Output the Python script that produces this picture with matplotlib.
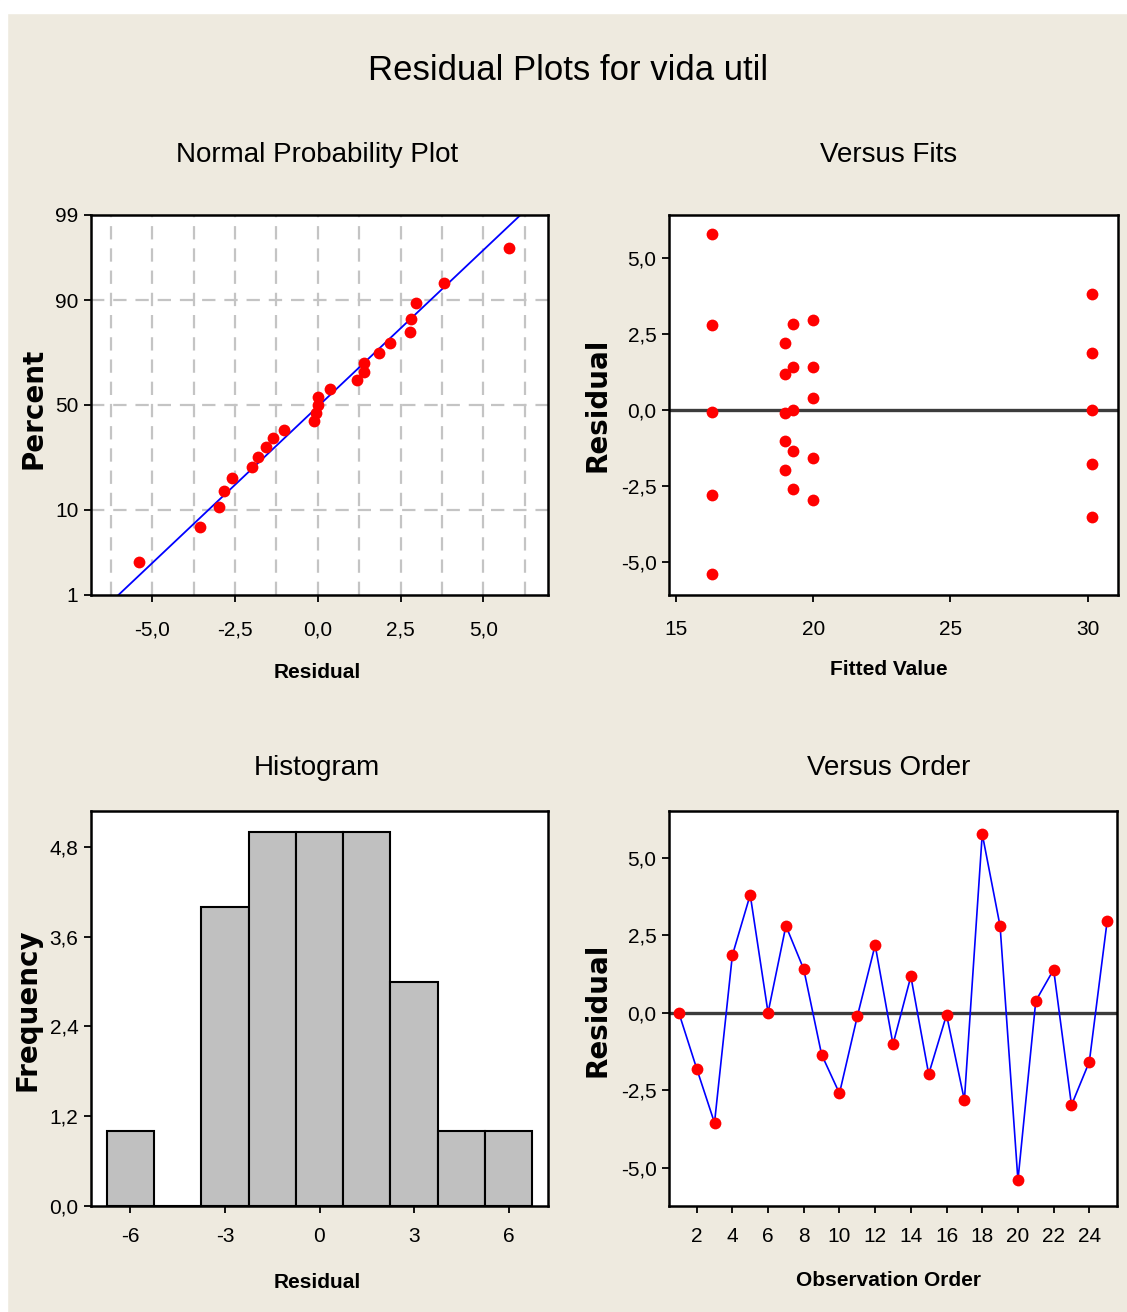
"""Minitab-style four-in-one residual plots for vida util."""

from statistics import NormalDist

import matplotlib

matplotlib.use("Agg")
import matplotlib.pyplot as plt
import numpy as np
from matplotlib import font_manager
from matplotlib.patches import Rectangle
from matplotlib.ticker import FixedLocator, FuncFormatter

NARROW = "Liberation Sans"
for fn in ["Liberation Sans Narrow", "Liberation Sans"]:
    if any(fn.lower() == t.name.lower() for t in font_manager.fontManager.ttflist):
        NARROW = fn
        break
WIDE = "DejaVu Sans"
plt.rcParams["axes.unicode_minus"] = False

obs_order = [1, 2, 3, 4, 5, 6, 7, 8, 9, 10, 11, 12, 13, 14, 15, 16, 17, 18, 19, 20, 21, 22, 23, 24, 25]
residuals = [0.00, -1.80, -3.55, 1.85, 3.80,
             0.00, 2.80, 1.40, -1.35, -2.60,
             -0.12, 2.18, -1.02, 1.17, -1.98,
             -0.07, -2.82, 5.76, 2.79, -5.40,
             0.38, 1.39, -2.98, -1.58, 2.96]
fitted = [30.14, 30.14, 30.14, 30.14, 30.14,
          19.27, 19.27, 19.27, 19.27, 19.27,
          18.97, 18.97, 18.97, 18.97, 18.97,
          16.31, 16.31, 16.31, 16.31, 16.31,
          19.99, 19.99, 19.99, 19.99, 19.99]
hist_edges = [-6.75, -5.25, -3.75, -2.25, -0.75, 0.75, 2.25, 3.75, 5.25, 6.75]

npp_xticks = [-5.0, -2.5, 0.0, 2.5, 5.0]
npp_grid_x = [-6.25, -5.0, -3.75, -2.5, -1.25, 0.0, 1.25, 2.5, 3.75, 5.0, 6.25]
npp_yticks = [1, 10, 50, 90, 99]
npp_grid_y = [10, 50, 90]
fits_xticks = [15, 20, 25, 30]
resid_yticks = [-5.0, -2.5, 0.0, 2.5, 5.0]
hist_xticks = [-6, -3, 0, 3, 6]
hist_yticks = [0.0, 1.2, 2.4, 3.6, 4.8]
order_xticks = [2, 4, 6, 8, 10, 12, 14, 16, 18, 20, 22, 24]

W, H = 1127, 1312
BG = "#eeeadf"
RED = "#ff0000"
BLUE = "#0000ff"


def rect(l, t, r, b):
    """Pixel box -> figure fraction rect."""
    return [l / W, 1 - b / H, (r - l) / W, (b - t) / H]


def ftext(x, y, s, **kw):
    """Text placed by pixel position."""
    fig.text(x / W, 1 - y / H, s, ha="center", va="center", **kw)


comma1 = FuncFormatter(lambda v, _: f"{v:.1f}".replace(".", ","))


def style(ax, xpad):
    for sp in ax.spines.values():
        sp.set_linewidth(1.8)
        sp.set_color("black")
    ax.tick_params(direction="out", length=5, width=1.3, labelsize=15, top=False, right=False)
    ax.tick_params(axis="x", pad=xpad)
    ax.tick_params(axis="y", pad=4)
    for lab in ax.get_xticklabels() + ax.get_yticklabels():
        lab.set_family(NARROW)


fig = plt.figure(figsize=(W / 100, H / 100), dpi=100, facecolor=BG)
fig.patches.append(Rectangle((0, 1 - 13 / H), 1, 13 / H, transform=fig.transFigure,
                             color="white", zorder=0))
fig.patches.append(Rectangle((0, 0), 7 / W, 1, transform=fig.transFigure,
                             color="white", zorder=0))

ftext(568, 70, "Residual Plots for vida util", family=NARROW, fontsize=25)

# ---- normal probability plot
nd = NormalDist()
fwd = np.vectorize(lambda p: nd.inv_cdf(min(max(p, 1e-9), 100 - 1e-9) / 100), otypes=[float])
inv = np.vectorize(lambda z: nd.cdf(z) * 100, otypes=[float])

ax1 = fig.add_axes(rect(91, 215, 548, 595))
ax1.set_yscale("function", functions=(fwd, inv))
srt = np.sort(residuals)
n = len(srt)
pct = (np.arange(1, n + 1) - 0.3) / (n + 0.4) * 100
mu, sd = np.mean(residuals), np.std(residuals, ddof=1)
for gx in npp_grid_x:
    ax1.axvline(gx, color="#c4c4c4", lw=1.6, ls=(0, (6, 4)), zorder=0)
for gy in npp_grid_y:
    ax1.axhline(gy, color="#c4c4c4", lw=1.6, ls=(0, (6, 4)), zorder=0)
line_p = np.array([0.5, 99.5])
ax1.plot(mu + sd * fwd(line_p), line_p, color=BLUE, lw=1.3, zorder=2)
ax1.plot(srt, pct, "o", color=RED, ms=8.5, mec="none", zorder=3)
ax1.set_xlim(-6.85, 6.95)
ax1.set_ylim(1, 99)
ax1.xaxis.set_major_locator(FixedLocator(npp_xticks))
ax1.xaxis.set_major_formatter(comma1)
ax1.yaxis.set_major_locator(FixedLocator(npp_yticks))
ax1.yaxis.set_major_formatter(FuncFormatter(lambda v, _: f"{v:.0f}"))
ax1.yaxis.set_minor_locator(FixedLocator([]))
style(ax1, 13)
ftext(317, 155, "Normal Probability Plot", family=NARROW, fontsize=20)
ftext(317, 672, "Residual", family=NARROW, fontsize=15, weight="bold")
ftext(34, 408, "Percent", family=WIDE, fontsize=20, weight="bold", rotation=90)

# ---- versus fits
ax2 = fig.add_axes(rect(669, 215, 1118, 595))
ax2.axhline(0, color="#3c3c3c", lw=2.4, zorder=1)
ax2.plot(fitted, residuals, "o", color=RED, ms=8.5, mec="none", zorder=3)
ax2.set_xlim(14.75, 31.1)
ax2.set_ylim(-6.1, 6.4)
ax2.xaxis.set_major_locator(FixedLocator(fits_xticks))
ax2.yaxis.set_major_locator(FixedLocator(resid_yticks))
ax2.yaxis.set_major_formatter(comma1)
style(ax2, 13)
ftext(889, 155, "Versus Fits", family=NARROW, fontsize=20)
ftext(889, 670, "Fitted Value", family=NARROW, fontsize=15, weight="bold")
ftext(597, 405, "Residual", family=WIDE, fontsize=20, weight="bold", rotation=90)

# ---- histogram
ax3 = fig.add_axes(rect(91, 811, 548, 1206))
ax3.hist(residuals, bins=hist_edges, color="#c0c0c0", edgecolor="black", linewidth=1.5)
ax3.set_xlim(-7.25, 7.25)
ax3.set_ylim(0, 5.28)
ax3.xaxis.set_major_locator(FixedLocator(hist_xticks))
ax3.yaxis.set_major_locator(FixedLocator(hist_yticks))
ax3.yaxis.set_major_formatter(comma1)
style(ax3, 10)
ftext(317, 768, "Histogram", family=NARROW, fontsize=20)
ftext(317, 1282, "Residual", family=NARROW, fontsize=15, weight="bold")
ftext(28, 1010, "Frequency", family=WIDE, fontsize=20, weight="bold", rotation=90)

# ---- versus order
ax4 = fig.add_axes(rect(669, 811, 1117, 1206))
ax4.axhline(0, color="#3c3c3c", lw=2.4, zorder=1)
ax4.plot(obs_order, residuals, "-", color=BLUE, lw=1.2, zorder=2)
ax4.plot(obs_order, residuals, "o", color=RED, ms=8.5, mec="none", zorder=3)
ax4.set_xlim(0.45, 25.55)
ax4.set_ylim(-6.23, 6.5)
ax4.xaxis.set_major_locator(FixedLocator(order_xticks))
ax4.yaxis.set_major_locator(FixedLocator(resid_yticks))
ax4.yaxis.set_major_formatter(comma1)
style(ax4, 10)
ftext(889, 768, "Versus Order", family=NARROW, fontsize=20)
ftext(889, 1281, "Observation Order", family=NARROW, fontsize=15, weight="bold")
ftext(597, 1010, "Residual", family=WIDE, fontsize=20, weight="bold", rotation=90)

fig.savefig("out.png", dpi=100, facecolor=BG)
plt.close(fig)
